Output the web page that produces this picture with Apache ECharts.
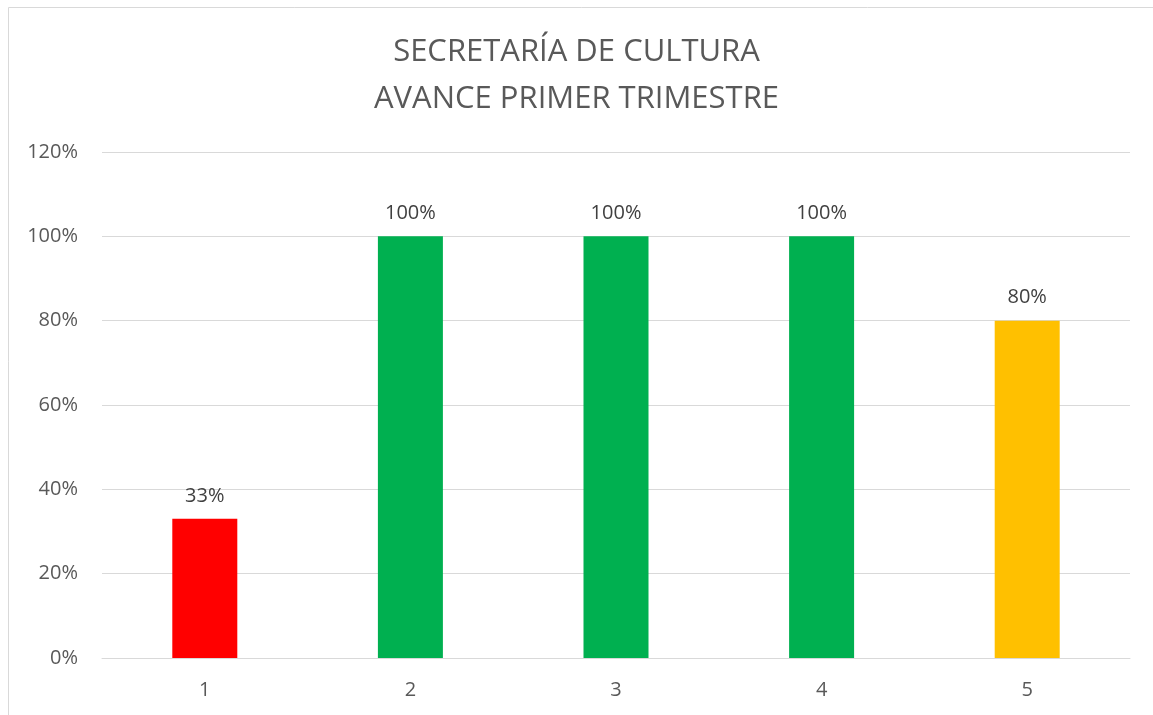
<!DOCTYPE html>
<html>
<head>
<meta charset="utf-8">
<script src="https://cdn.jsdelivr.net/npm/echarts@6/dist/echarts.min.js"></script>
<style>
  html, body { margin: 0; padding: 0; background: #fff; }
  #chart { width: 1153px; height: 715px; }
</style>
</head>
<body>
<div id="chart"></div>
<script>
// datos del avance
const categories = ['1', '2', '3', '4', '5']
const avance = [0.33, 1, 1, 1, 0.8]
const yTicks = [0, 0.2, 0.4, 0.6, 0.8, 1, 1.2]

const barColors = ['#FF0000', '#00B050', '#00B050', '#00B050', '#FFC000']
const textColor = '#595959'
const fontFamily = '"Open Sans", "Noto Sans", sans-serif'

const chart = echarts.init(document.getElementById('chart'))

chart.setOption({
  animation: false,
  textStyle: { fontFamily: fontFamily },
  title: {
    text: 'SECRETARÍA DE CULTURA\nAVANCE PRIMER TRIMESTRE',
    left: 'center',
    top: 24,
    textStyle: {
      color: textColor,
      fontSize: 31,
      fontWeight: 'normal',
      lineHeight: 47,
      fontFamily: fontFamily
    }
  },
  graphic: [
    {
      type: 'rect',
      shape: { x: 8.5, y: 7.5, width: 1170, height: 730 },
      style: { fill: 'none', stroke: '#d9d9d9', lineWidth: 1 },
      silent: true
    }
  ],
  grid: {
    left: 102,
    right: 23,
    top: 152,
    bottom: 57
  },
  xAxis: {
    type: 'category',
    data: categories,
    axisLine: { show: true, lineStyle: { color: '#d9d9d9', width: 1 } },
    axisTick: { show: false },
    axisLabel: {
      color: textColor,
      fontSize: 20,
      margin: 22,
      fontFamily: fontFamily
    }
  },
  yAxis: {
    type: 'value',
    min: yTicks[0],
    max: yTicks[yTicks.length - 1],
    interval: 0.2,
    axisLine: { show: false },
    axisTick: { show: false },
    splitLine: { lineStyle: { color: '#d9d9d9', width: 1 } },
    axisLabel: {
      color: textColor,
      fontSize: 20,
      margin: 24,
      fontFamily: fontFamily,
      formatter: v => Math.round(v * 100) + '%'
    }
  },
  series: [
    {
      type: 'bar',
      data: avance,
      barWidth: 65,
      itemStyle: {
        color: p => barColors[p.dataIndex]
      },
      label: {
        show: true,
        position: 'top',
        distance: 13,
        color: '#404040',
        fontSize: 20,
        fontFamily: fontFamily,
        formatter: p => Math.round(p.value * 100) + '%'
      }
    }
  ]
})
</script>
</body>
</html>
